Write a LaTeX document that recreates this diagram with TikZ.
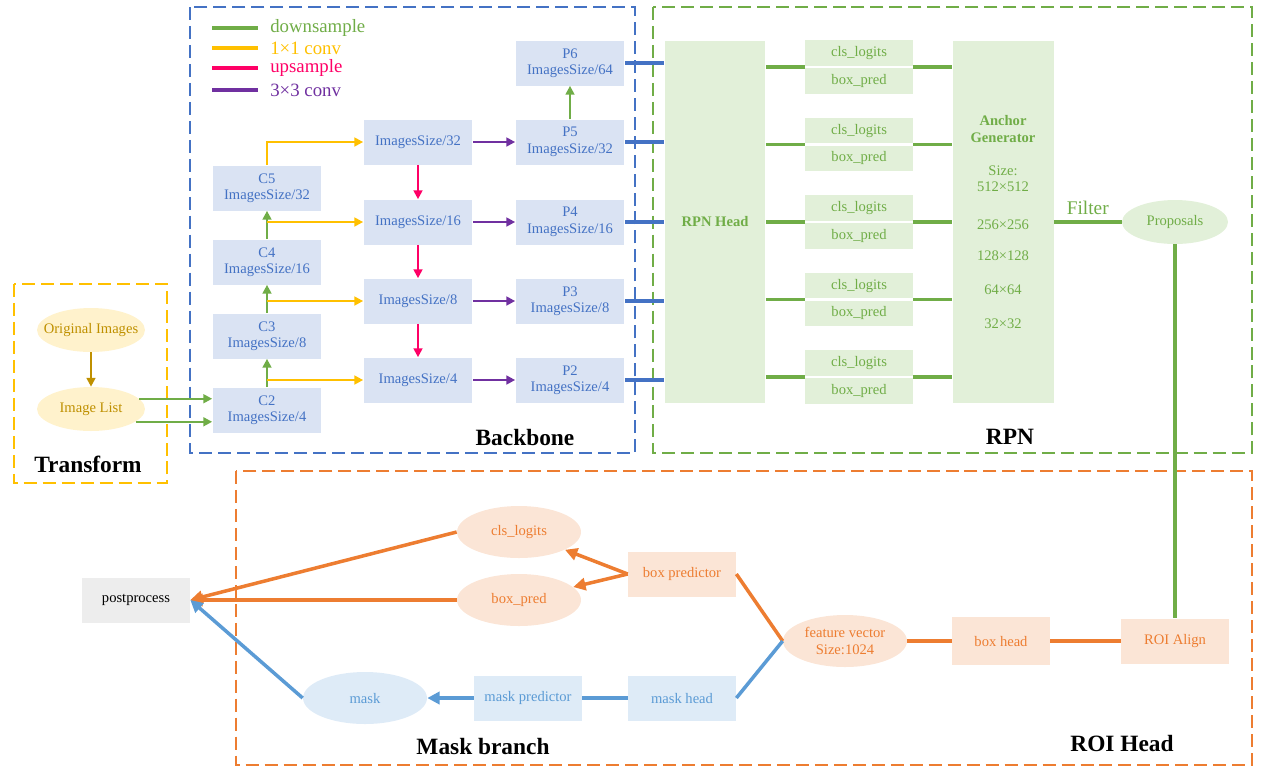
\documentclass[tikz,border=0pt]{standalone}
\usepackage{fontspec}
\setmainfont{Liberation Serif}
\usepackage{tikz}
\usetikzlibrary{arrows.meta,shapes.geometric}
\definecolor{bbblue}{HTML}{4472C4}
\definecolor{bbfill}{HTML}{DAE3F3}
\definecolor{rpngreen}{HTML}{70AD47}
\definecolor{rpnfill}{HTML}{E2F0D9}
\definecolor{roiorange}{HTML}{ED7D31}
\definecolor{roifill}{HTML}{FBE5D6}
\definecolor{mskblue}{HTML}{5B9BD5}
\definecolor{mskfill}{HTML}{DEEBF7}
\definecolor{tfgold}{HTML}{BF9000}
\definecolor{tffill}{HTML}{FFF2CC}
\definecolor{tfyellow}{HTML}{FFC000}
\definecolor{upred}{HTML}{FF0066}
\definecolor{convpurple}{HTML}{7030A0}

\begin{document}
\begin{tikzpicture}[x=0.02cm,y=-0.02cm,
  txt/.style={font=\fontsize{8.3}{9.4}\selectfont, align=center, inner sep=0pt},
  title/.style={font=\fontsize{13.3}{15}\selectfont\bfseries, inner sep=0pt},
  dashbox/.style={line width=0.85pt, dash pattern=on 7.4pt off 3.4pt},
  bbbox/.style={txt, fill=bbfill, text=bbblue, minimum width=2.18cm, minimum height=0.9cm},
  rpnbox/.style={txt, fill=rpnfill, text=rpngreen},
  roibox/.style={txt, fill=roifill, text=roiorange, minimum width=2.16cm, minimum height=0.9cm},
  roiell/.style={txt, ellipse, fill=roifill, text=roiorange, minimum width=2.48cm, minimum height=1.04cm},
  mskbox/.style={txt, fill=mskfill, text=mskblue, minimum width=2.16cm, minimum height=0.9cm},
  tfell/.style={txt, ellipse, inner xsep=-6pt, fill=tffill, text=tfgold, minimum width=2.16cm, minimum height=0.88cm},
  tip/.style={-{Triangle[length=5pt,width=5pt]}},
  bigtip/.style={-{Triangle[length=7pt,width=7pt]}},
  dsarr/.style={tip, line width=1.2pt, rpngreen},
  c1arr/.style={tip, line width=1.2pt, tfyellow},
  uparr/.style={tip, line width=1.2pt, upred},
  c3arr/.style={tip, line width=1.2pt, convpurple},
  bbline/.style={line width=2pt, bbblue},
  rpnline/.style={line width=2pt, rpngreen},
  roiline/.style={line width=2pt, roiorange},
  mskline/.style={line width=2pt, mskblue}]
\useasboundingbox (0,0) rectangle (1268,769);

% dashed groups
\draw[dashbox, tfyellow] (14,284) rectangle (167,483);
\draw[dashbox, bbblue] (190,7) rectangle (635,453);
\draw[dashbox, rpngreen] (653,7) rectangle (1252,453);
\draw[dashbox, roiorange] (236,471) rectangle (1252,765);

\node[title] (tTransform) at (88,464) {Transform};
\node[title] (tBackbone) at (525,437) {Backbone};
\node[title] (tRPN) at (1010,437) {RPN};
\node[title] (tMask) at (483,746) {Mask branch};
\node[title] (tROI) at (1122,743) {ROI Head};

% legend
\foreach \y/\c/\t [count=\i] in {28/rpngreen/downsample, 48/tfyellow/1×1 conv,
                                 68/upred/upsample, 90/convpurple/3×3 conv}
{   \draw[line width=2pt, \c] (212,\y) -- ++(46,0)
      node[right=6pt, inner sep=0pt, text=\c, font=\fontsize{10.7}{12}\selectfont] (lg\i) {\t};
}

% transform
\node[tfell] (OI) at (91,330) {Original Images};
\node[tfell] (IL) at (91,409) {Image List};
\draw[tip, line width=1.2pt, tfgold] (OI) -- (IL);

% backbone
\node[bbbox] (C5) at (267,188) {C5\\ImagesSize/32};
\node[bbbox] (C4) at (267,262) {C4\\ImagesSize/16};
\node[bbbox] (C3) at (267,336) {C3\\ImagesSize/8};
\node[bbbox] (C2) at (267,410) {C2\\ImagesSize/4};
\node[bbbox] (M32) at (418,142) {ImagesSize/32};
\node[bbbox] (M16) at (418,222) {ImagesSize/16};
\node[bbbox] (M8) at (418,301) {ImagesSize/8};
\node[bbbox] (M4) at (418,380) {ImagesSize/4};
\node[bbbox] (P6) at (570,63) {P6\\ImagesSize/64};
\node[bbbox] (P5) at (570,142) {P5\\ImagesSize/32};
\node[bbbox] (P4) at (570,222) {P4\\ImagesSize/16};
\node[bbbox] (P3) at (570,301) {P3\\ImagesSize/8};
\node[bbbox] (P2) at (570,380) {P2\\ImagesSize/4};

\draw[dsarr] (IL.12) -- (C2.west |- IL.12);
\draw[dsarr] (IL.-16) -- (C2.west |- IL.-16);
\foreach \a/\b in {C2/C3,C3/C4,C4/C5}
    \draw[dsarr] (\a.north) -- (\b.south);
\draw[c1arr] (C5.north) |- (M32.west);
\foreach \a/\b in {C4/M16,C3/M8,C2/M4}
    \draw[c1arr] (\a.north |- \b.west) -- (\b.west);
\foreach \a/\b in {M32/M16,M16/M8,M8/M4}
    \draw[uparr] (\a) -- (\b);
\foreach \a/\b in {M32/P5,M16/P4,M8/P3,M4/P2}
    \draw[c3arr] (\a) -- (\b);
\draw[dsarr] (P5) -- (P6);

% rpn
\node[rpnbox, font=\fontsize{8.3}{9.4}\selectfont\bfseries, minimum width=2.02cm, minimum height=7.24cm] (Head) at (715,222) {RPN Head};
\node[rpnbox, minimum width=2.02cm, minimum height=7.24cm] (AG) at (1003,222)
  {\textbf{Anchor}\\\textbf{Generator}\\[9.6pt]Size:\\512×512\\[12pt]256×256\\[8.5pt]128×128\\[9.6pt]64×64\\[10pt]32×32};
\node[txt, ellipse, fill=rpnfill, text=rpngreen, minimum width=2.12cm, minimum height=0.88cm] (Prop) at (1175,222) {Proposals};
\node[roibox] (RA) at (1175,641) {ROI Align};

\foreach \i in {2,...,6}
    \draw[bbline] (P\i.east) -- (Head.west |- P\i.east);
\foreach \y [count=\i] in {67,144.5,222,299.5,377}
{   \coordinate (s\i) at (859,\y);
    \node[rpnbox, anchor=south, minimum width=2.16cm, minimum height=0.51cm] (cls\i) at ([yshift=0.5pt]s\i) {cls\_logits};
    \node[rpnbox, anchor=north, minimum width=2.16cm, minimum height=0.51cm] (box\i) at ([yshift=-0.5pt]s\i) {box\_pred};
    \draw[rpnline] (Head.east |- s\i) -- (s\i -| cls\i.west);
    \draw[rpnline] (s\i -| cls\i.east) -- (AG.west |- s\i);
}
\draw[rpnline] (AG.east |- Prop) -- (Prop.west)
    node[midway, above=3pt, inner sep=0pt, text=rpngreen, font=\fontsize{11}{12}\selectfont] (lFilter) {Filter};
\draw[rpnline] (Prop.south) -- (RA.north);

% roi head
\node[txt, fill=black!7, minimum width=2.16cm, minimum height=0.9cm] (PP) at (136,600) {postprocess};
\node[roiell] (CL) at (519,532) {cls\_logits};
\node[roiell] (BPd) at (519,600) {box\_pred};
\node[roibox] (BP) at (682,574) {box predictor};
\node[roiell] (FV) at (845,641) {feature vector\\Size:1024};
\node[roibox, minimum width=1.96cm, minimum height=0.96cm] (BH) at (1001,641) {box head};
\node[txt, ellipse, fill=mskfill, text=mskblue, minimum width=2.48cm, minimum height=1.04cm] (MK) at (365,698) {mask};
\node[mskbox] (MP) at (528,698) {mask predictor};
\node[mskbox] (MH) at (682,698) {mask head};

\draw[roiline] (RA) -- (BH);
\draw[roiline] (BH) -- (FV);
\draw[roiline] (FV.west) -- (BP.east);
\draw[mskline] (FV.west) -- (MH.east);
\draw[roiline, bigtip] (BP.west) -- (CL);
\draw[roiline, bigtip] (BP.west) -- (BPd);
\draw[roiline, bigtip] (CL.west) -- (PP.east);
\draw[roiline, bigtip] (BPd.west) -- (PP.east);
\draw[mskline] (MH) -- (MP);
\draw[mskline, bigtip] (MP) -- (MK);
\draw[mskline, bigtip] (MK.west) -- (PP.east);
\end{tikzpicture}
\end{document}
